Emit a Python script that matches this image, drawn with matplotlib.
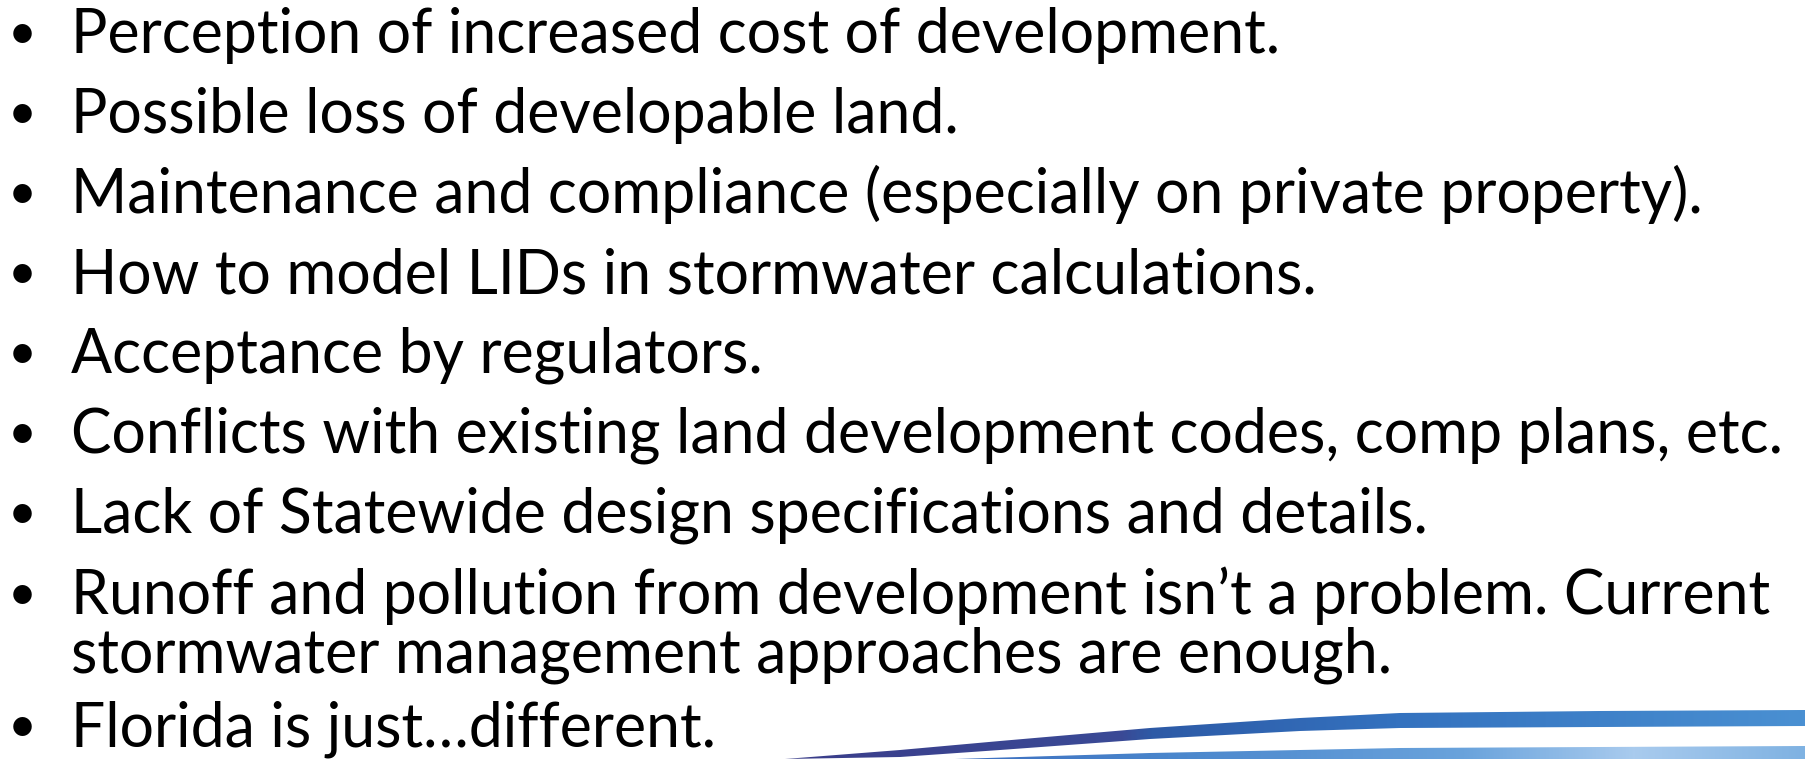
import matplotlib
matplotlib.use("Agg")
import matplotlib.pyplot as plt
import numpy as np
from matplotlib.colors import LinearSegmentedColormap
from matplotlib.patches import Polygon

# slide text (one entry per bullet; continuation lines have no bullet)
lines = [
    "Perception of increased cost of development.",
    "Possible loss of developable land.",
    "Maintenance and compliance (especially on private property).",
    "How to model LIDs in stormwater calculations.",
    "Acceptance by regulators.",
    "Conflicts with existing land development codes, comp plans, etc.",
    "Lack of Statewide design specifications and details.",
    "Runoff and pollution from development isn\u2019t a problem. Current",
    "stormwater management approaches are enough.",
    "Florida is just\u2026different.",
]
has_bullet = [True, True, True, True, True, True, True, True, False, True]
baselines = [53, 133, 213, 293, 373, 453, 533, 614, 673, 746]

# decorative swoosh outline (pixel coords)
band1_x = [785, 900, 1000, 1150, 1300, 1400, 1600, 1805]
band1_top = [759, 750, 741, 728, 718, 713, 711, 710]
band1_bot = [759, 757, 750, 739, 731, 728, 727, 726]
band2_x = [955, 1150, 1400, 1600, 1805]
band2_top = [759, 753, 748, 747, 746]

W, H = 1805, 759
fig = plt.figure(figsize=(W / 100, H / 100), dpi=100)
ax = fig.add_axes([0, 0, 1, 1])
ax.set_xlim(0, W)
ax.set_ylim(H, 0)
ax.axis("off")

font = ["Lato", "DejaVu Sans"]
text_x, bullet_x = 71, 22
target_w = 1714  # width of the longest line in pixels

# fit font size to the widest line
probe = ax.text(0, 0, lines[5], fontsize=40, family=font)
fig.canvas.draw()
w = probe.get_window_extent().width
probe.remove()
fs = 40 * target_w / w

for txt, b, y in zip(lines, has_bullet, baselines):
    ax.text(text_x, y, txt, fontsize=fs, family=font, va="baseline",
            ha="left", color="black")
    if b:
        ax.text(bullet_x, y - 4, "\u2022", fontsize=fs * 0.82, family=font,
                va="baseline", ha="center", color="black")

# swoosh bands with horizontal gradients
def gradient_band(xs, top, bot, colors, z):
    pts = list(zip(xs, top)) + list(zip(xs[::-1], bot[::-1]))
    poly = Polygon(pts, closed=True, facecolor="none", edgecolor="none")
    ax.add_patch(poly)
    cmap = LinearSegmentedColormap.from_list("g", colors)
    grad = np.linspace(0, 1, 512)[None, :]
    im = ax.imshow(grad, cmap=cmap, aspect="auto",
                   extent=(min(xs), max(xs), max(bot), min(top)),
                   zorder=z, interpolation="bilinear")
    im.set_clip_path(poly)

gradient_band(band1_x, band1_top, band1_bot,
              [(0, "#3a3d8a"), (0.33, "#3a4a96"), (0.36, "#2d5aa6"),
               (0.6, "#3472bf"), (1, "#4a90d2")], 3)
gradient_band(band2_x, band2_top, [759] * len(band2_x),
              [(0, "#3d6fc0"), (0.25, "#4a86cc"), (0.6, "#6aa3dc"),
               (0.8, "#a9cbee"), (1, "#7fb2e2")], 3)

ax.set_xlim(0, W)
ax.set_ylim(H, 0)
fig.savefig("out.png", dpi=100, facecolor="white")
